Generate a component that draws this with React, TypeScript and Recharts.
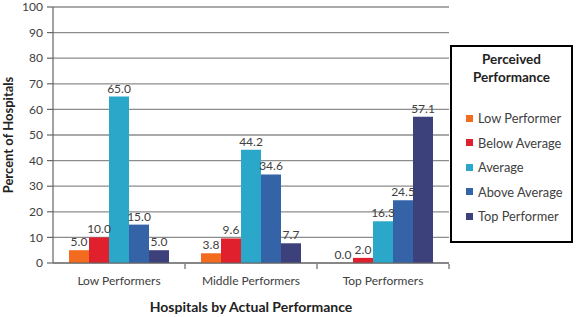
import React from "react";
import { Bar, BarChart, CartesianGrid, Label, LabelList, Legend, XAxis, YAxis } from "recharts";

const categories = ["Low Performers", "Middle Performers", "Top Performers"];
const seriesNames = ["Low Performer", "Below Average", "Average", "Above Average", "Top Performer"];
const lowPerformer = [5.0, 3.8, 0.0];
const belowAverage = [10.0, 9.6, 2.0];
const average = [65.0, 44.2, 16.3];
const aboveAverage = [15.0, 34.6, 24.5];
const topPerformer = [5.0, 7.7, 57.1];
const yTicks = [0, 10, 20, 30, 40, 50, 60, 70, 80, 90, 100];

const colors = ["#f26b1f", "#e0202c", "#2ba7c9", "#3463a8", "#3c407b"];
const keys = ["low", "below", "avg", "above", "top"];
const seriesValues = [lowPerformer, belowAverage, average, aboveAverage, topPerformer];

const data = categories.map((name, i) => {
  const row: Record<string, string | number> = { name };
  keys.forEach((k, j) => (row[k] = seriesValues[j][i]));
  return row;
});

const FONT = "Lato, 'Open Sans', sans-serif";
const W = 577;
const H = 317;
const LEFT = 53;
const RIGHT = 128;
const half = (W - LEFT - RIGHT) / categories.length / 2;

function XTick(props: any) {
  const { x, y, payload } = props;
  return (
    <g>
      <line x1={x + half} x2={x + half} y1={y - 1} y2={y + 4} stroke="#666" strokeWidth={1.2} />
      <text x={x} y={y + 20} textAnchor="middle" fontSize={12} fill="#404040" fontFamily={FONT}>
        {payload.value}
      </text>
    </g>
  );
}

function LegendBox() {
  return (
    <div
      style={{
        boxSizing: "border-box",
        width: 123,
        height: 198,
        border: "2px solid #000",
        background: "#fff",
        fontFamily: FONT,
        color: "#404040",
      }}
    >
      <div style={{ textAlign: "center", fontWeight: "bold", fontSize: 13.5, lineHeight: "18px", paddingTop: 3, color: "#222" }}>
        Perceived
        <br />
        Performance
      </div>
      <div style={{ paddingTop: 20, paddingLeft: 14 }}>
        {seriesNames.map((n, i) => (
          <div key={n} style={{ display: "flex", alignItems: "center", height: 24.5, fontSize: 12.8 }}>
            <span style={{ width: 7, height: 7, background: colors[i], marginRight: 5, display: "inline-block" }} />
            {n}
          </div>
        ))}
      </div>
    </div>
  );
}

export default function App() {
  return (
    <div style={{ position: "absolute", left: 0, top: 0, width: W, height: H, background: "#fff" }}>
      <BarChart
        width={W}
        height={H}
        data={data}
        margin={{ top: 7, right: RIGHT, bottom: 0, left: 0 }}
        barCategoryGap={16}
        barGap={0}
      >
        <CartesianGrid vertical={false} stroke="#8c8c8c" strokeWidth={1.3} />
        <XAxis
          dataKey="name"
          height={54}
          tickLine={false}
          tickSize={0}
          axisLine={{ stroke: "#666", strokeWidth: 1.2 }}
          tick={<XTick />}
          interval={0}
        >
          <Label
            content={(p: any) => (
              <text
                x={p.viewBox.x + p.viewBox.width / 2}
                y={312}
                textAnchor="middle"
                fontSize={14}
                fontWeight="bold"
                fill="#222"
                fontFamily={FONT}
              >
                Hospitals by Actual Performance
              </text>
            )}
          />
        </XAxis>
        <YAxis
          width={LEFT}
          domain={[0, 100]}
          ticks={yTicks}
          interval={0}
          tickSize={6}
          tickMargin={4}
          tick={{ fontSize: 12, fill: "#404040", fontFamily: FONT }}
          tickLine={{ stroke: "#666", strokeWidth: 1.2 }}
          axisLine={{ stroke: "#666", strokeWidth: 1.2 }}
        >
          <Label
            content={(p: any) => {
              const cy = p.viewBox.y + p.viewBox.height / 2;
              return (
                <text
                  x={13}
                  y={cy}
                  transform={`rotate(-90 13 ${cy})`}
                  textAnchor="middle"
                  fontSize={13}
                  fontWeight="bold"
                  fill="#222"
                  fontFamily={FONT}
                >
                  Percent of Hospitals
                </text>
              );
            }}
          />
        </YAxis>
        <Legend
          layout="horizontal"
          align="center"
          verticalAlign="middle"
          wrapperStyle={{ position: "absolute", left: 450, top: 45, width: 123, height: 198 }}
          content={() => <LegendBox />}
        />
        {keys.map((k, i) => (
          <Bar
            key={k}
            dataKey={k}
            name={seriesNames[i]}
            fill={colors[i]}
            minPointSize={(v: any) => (Number(v) === 0 ? 0.1 : 0)}
            isAnimationActive={false}
          >
            <LabelList
              dataKey={k}
              position="top"
              offset={4}
              formatter={(v: any) => Number(v).toFixed(1)}
              style={{ fontSize: 12, fill: "#404040", fontFamily: FONT }}
            />
          </Bar>
        ))}
      </BarChart>
    </div>
  );
}
